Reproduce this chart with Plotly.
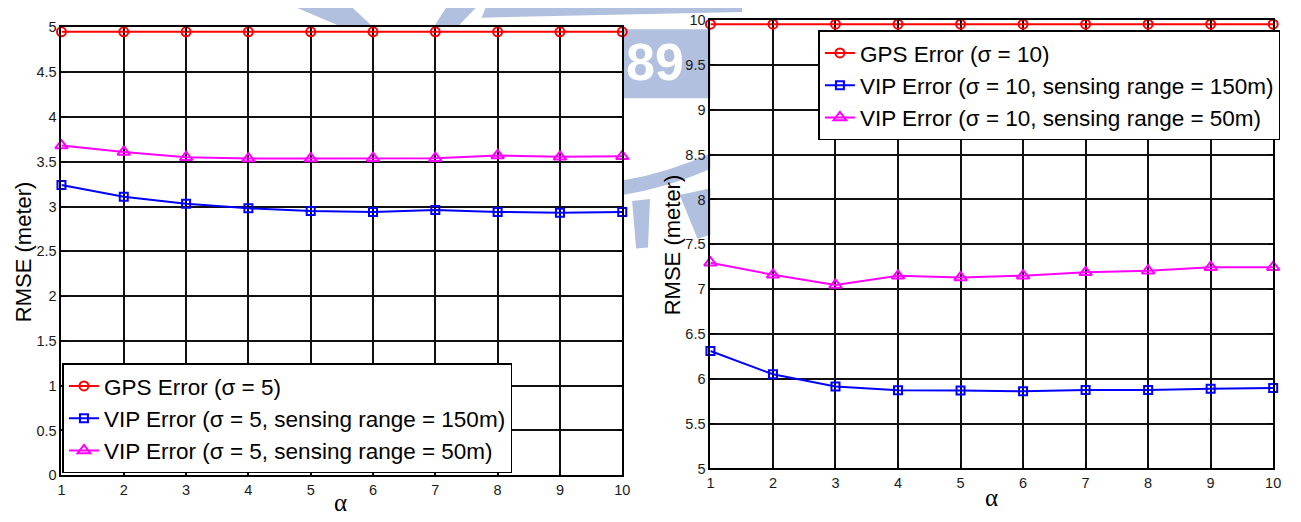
import plotly.graph_objects as go

W, H = 1301, 522

alpha = [1, 2, 3, 4, 5, 6, 7, 8, 9, 10]

# Left panel (sigma = 5)
gps5 = [4.95, 4.95, 4.95, 4.95, 4.95, 4.95, 4.95, 4.95, 4.95, 4.95]
vip5_150 = [3.24, 3.11, 3.03, 2.98, 2.95, 2.94, 2.96, 2.94, 2.93, 2.94]
vip5_50 = [3.68, 3.61, 3.55, 3.535, 3.535, 3.54, 3.54, 3.57, 3.555, 3.56]

# Right panel (sigma = 10)
gps10 = [9.955, 9.955, 9.955, 9.955, 9.955, 9.955, 9.955, 9.955, 9.955, 9.955]
vip10_150 = [6.31, 6.05, 5.915, 5.872, 5.868, 5.86, 5.875, 5.875, 5.89, 5.897]
vip10_50 = [7.295, 7.16, 7.047, 7.148, 7.13, 7.15, 7.187, 7.205, 7.245, 7.245]

names5 = ["GPS Error (σ = 5)",
          "VIP Error (σ = 5, sensing range = 150m)",
          "VIP Error (σ = 5, sensing range = 50m)"]
names10 = ["GPS Error (σ = 10)",
           "VIP Error (σ = 10, sensing range = 150m)",
           "VIP Error (σ = 10, sensing range = 50m)"]

colors = ["#ff0000", "#0000ff", "#ff00ff"]
symbols = ["circle-open", "square-open", "triangle-up-open"]
msizes = [9, 8, 11]


def px(x):
    return x / W


def py(y):
    return 1 - y / H


fig = go.Figure()

for i, ys in enumerate([gps5, vip5_150, vip5_50]):
    fig.add_trace(go.Scatter(
        x=alpha, y=ys, name=names5[i], mode="lines+markers",
        line=dict(color=colors[i], width=2),
        marker=dict(symbol=symbols[i], size=msizes[i], color=colors[i],
                    line=dict(width=2, color=colors[i])),
        xaxis="x", yaxis="y", legend="legend", cliponaxis=False))

for i, ys in enumerate([gps10, vip10_150, vip10_50]):
    fig.add_trace(go.Scatter(
        x=alpha, y=ys, name=names10[i], mode="lines+markers",
        line=dict(color=colors[i], width=2),
        marker=dict(symbol=symbols[i], size=msizes[i], color=colors[i],
                    line=dict(width=2, color=colors[i])),
        xaxis="x2", yaxis="y2", legend="legend2", cliponaxis=False))

tickfont = dict(family="Arial, Liberation Sans, sans-serif", size=14.5, color="#1a1a1a")
axis_common = dict(
    showline=True, linecolor="black", linewidth=2, mirror="allticks",
    ticks="inside", ticklen=5, tickwidth=1, tickcolor="black",
    showgrid=True, gridcolor="#111111", gridwidth=1.5,
    zeroline=False, tickfont=tickfont, fixedrange=True,
)

legend_common = dict(
    bgcolor="white", bordercolor="black", borderwidth=1.5,
    font=dict(family="Arial, Liberation Sans, sans-serif", size=22.5, color="black"),
    xanchor="left", tracegroupgap=0, itemwidth=30,
)

# watermark (decorative, in the margins)
wm = "#b0c0de"
shapes = [
    dict(type="rect", xref="paper", yref="paper", x0=px(624), x1=px(713),
         y0=py(93), y1=py(22), fillcolor=wm, line=dict(width=0), layer="below"),
    dict(type="path", xref="paper", yref="paper",
         path="M {} {} Q {} {} {} {} L {} {} Q {} {} {} {} Z".format(
             px(624), py(178), px(670), py(170), px(713), py(150),
             px(713), py(166), px(670), py(185), px(624), py(193)),
         fillcolor=wm, line=dict(width=0), layer="below"),
    dict(type="path", xref="paper", yref="paper",
         path="M {} {} L {} {} L {} {} L {} {} Z".format(
             px(634), py(199), px(652), py(197), px(650), py(247), px(638), py(248)),
         fillcolor=wm, line=dict(width=0), layer="below"),
    dict(type="path", xref="paper", yref="paper",
         path="M {} {} L {} {} L {} {} L {} {} Z".format(
             px(682), py(193), px(713), py(186), px(713), py(234), px(700), py(238)),
         fillcolor=wm, line=dict(width=0), layer="below"),
    dict(type="path", xref="paper", yref="paper",
         path="M {} {} L {} {} L {} {} L {} {} Z".format(
             px(296), py(0), px(352), py(0), px(372), py(19), px(340), py(19)),
         fillcolor=wm, line=dict(width=0), layer="below"),
    dict(type="path", xref="paper", yref="paper",
         path="M {} {} L {} {} L {} {} L {} {} Z".format(
             px(446), py(0), px(476), py(0), px(458), py(19), px(434), py(19)),
         fillcolor=wm, line=dict(width=0), layer="below"),
    dict(type="path", xref="paper", yref="paper",
         path="M {} {} L {} {} L {} {} L {} {} Z".format(
             px(486), py(0), px(745), py(0), px(745), py(4), px(482), py(10)),
         fillcolor=wm, line=dict(width=0), layer="below"),
]

annotations = [
    dict(text="<b>89</b>", xref="paper", yref="paper", x=px(626), y=py(56),
         xanchor="left", yanchor="middle", showarrow=False,
         font=dict(family="Arial, Liberation Sans, sans-serif", size=52, color="white"),
         ),
    dict(text="RMSE (meter)", xref="paper", yref="paper", x=px(19), y=py(251),
         textangle=-90, showarrow=False, xanchor="center", yanchor="middle",
         font=dict(family="Arial, Liberation Sans, sans-serif", size=22, color="black")),
    dict(text="RMSE (meter)", xref="paper", yref="paper", x=px(675), y=py(244),
         textangle=-90, showarrow=False, xanchor="center", yanchor="middle",
         font=dict(family="Arial, Liberation Sans, sans-serif", size=22, color="black")),
    dict(text="α", xref="paper", yref="paper", x=px(340), y=py(510),
         showarrow=False, xanchor="center", yanchor="middle",
         font=dict(family="Times New Roman, Liberation Serif, serif", size=25, color="black")),
    dict(text="α", xref="paper", yref="paper", x=px(997), y=py(505),
         showarrow=False, xanchor="center", yanchor="middle",
         font=dict(family="Times New Roman, Liberation Serif, serif", size=25, color="black")),
]

fig.update_layout(
    width=W, height=H, autosize=False,
    margin=dict(l=0, r=0, t=0, b=0),
    paper_bgcolor="white", plot_bgcolor="white",
    showlegend=True,
    xaxis=dict(domain=[px(58), px(624)], range=[1, 10], dtick=1, tick0=1,
               anchor="y", **axis_common),
    yaxis=dict(domain=[py(482), py(20)], range=[0, 5], dtick=0.5, tick0=0,
               anchor="x", **axis_common),
    xaxis2=dict(domain=[px(713), px(1281)], range=[1, 10], dtick=1, tick0=1,
                anchor="y2", **axis_common),
    yaxis2=dict(domain=[py(475), py(12.5)], range=[5, 10], dtick=0.5, tick0=5,
                anchor="x2", **axis_common),
    legend=dict(x=px(59), y=py(480), yanchor="bottom", **legend_common),
    legend2=dict(x=px(822), y=py(23), yanchor="top", **legend_common),
    shapes=shapes,
    annotations=annotations,
)

fig.write_html("out.html")
